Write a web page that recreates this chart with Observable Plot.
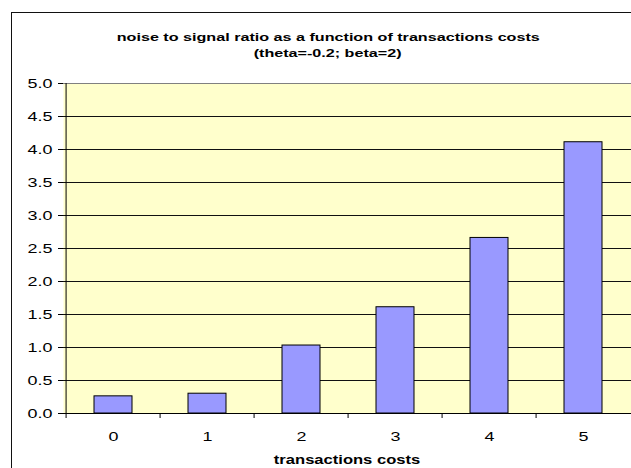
<!DOCTYPE html>
<html>
<head>
<meta charset="utf-8">
<script src="https://cdn.jsdelivr.net/npm/d3@7"></script>
<script src="https://cdn.jsdelivr.net/npm/@observablehq/plot@0.6"></script>
<style>
  body { margin: 0; background: #fff; font-family: "Liberation Sans", Arial, sans-serif; color: #000; overflow: hidden; }
  #page { position: relative; width: 631px; height: 468px; overflow: hidden; }
  #box { position: absolute; left: 11px; top: 12px; width: 640px; height: 470px;
         border-left: 1.5px solid #111; border-top: 1.5px solid #111; }
  .title { position: absolute; left: 12px; width: 632px; top: 29px; text-align: center;
           font-weight: bold; font-size: 11.7px; line-height: 16px; }
  #xtitle { position: absolute; left: 63px; width: 569px; top: 452px; text-align: center;
            font-weight: bold; font-size: 12px; line-height: 16px; }
  /* the reference text is stretched sideways */
  .wide { display: inline-block; transform: scaleX(1.38); }
  #chart { position: absolute; left: 0; top: 70px; }
</style>
</head>
<body>
<div id="page">
  <div id="box"></div>
  <div class="title">
    <span class="wide">noise to signal ratio as a function of transactions costs</span><br>
    <span class="wide">(theta=-0.2; beta=2)</span>
  </div>
  <div id="chart"></div>
  <div id="xtitle"><span class="wide">transactions costs</span></div>
</div>
<script>
const costs = [0, 1, 2, 3, 4, 5]
const ratios = [0.26, 0.30, 1.03, 1.61, 2.66, 4.11]
const yTicks = [0, 0.5, 1, 1.5, 2, 2.5, 3, 3.5, 4, 4.5, 5]

const data = costs.map((c, i) => ({cost: c, ratio: ratios[i]}))

// plot area runs past the right edge of the window, as in the reference
const W = 650, ML = 63, MR = 18
const bw = (W - ML - MR) / costs.length
const S = 1.38

const chart = Plot.plot({
  width: W,
  height: 398,
  marginLeft: ML,
  marginRight: MR,
  marginTop: 13,
  marginBottom: 55,
  style: {background: "transparent", maxWidth: "none", fontSize: "13px",
          fontFamily: "'Liberation Sans', Arial, sans-serif", color: "#000"},
  x: {domain: costs, padding: 0},
  y: {domain: [0, 5]},
  marks: [
    Plot.frame({fill: "#FFFFCC", stroke: "none"}),
    Plot.ruleY(yTicks.filter(d => d > 0 && d < 5), {stroke: "#111"}),
    Plot.ruleY([5], {stroke: "#808080"}),
    Plot.barY(data, {x: "cost", y: "ratio", fill: "#9999FF", stroke: "#000",
                     insetLeft: 28, insetRight: 28}),
    Plot.ruleY([0], {stroke: "#000"}),
    // left edge of the plot area
    Plot.ruleX([costs[0]], {stroke: "#000", dx: -bw / 2}),
    Plot.axisY({ticks: yTicks, tickFormat: d3.format(".1f"), tickSize: 5, tickPadding: 6, label: null}),
    // tick marks sit on the band edges
    Plot.axisX({tickSize: 5, tickFormat: () => "", dx: -bw / 2, label: null}),
    Plot.axisX({tickSize: 0, tickPadding: 18, label: null})
  ]
})

// stretch every label sideways around its anchor
chart.querySelectorAll("text").forEach(t => {
  const g = document.createElementNS("http://www.w3.org/2000/svg", "g")
  g.setAttribute("transform", `${t.getAttribute("transform") || ""} scale(${S},1)`)
  t.removeAttribute("transform")
  t.parentNode.insertBefore(g, t)
  g.appendChild(t)
})

d3.select('#chart').append(() => chart)
</script>
</body>
</html>
